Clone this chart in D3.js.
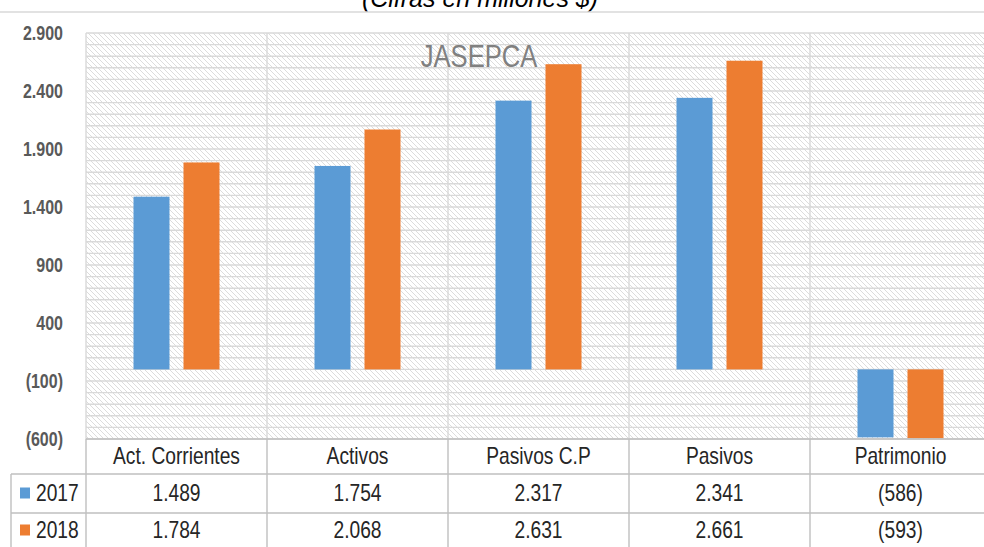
<!DOCTYPE html>
<html>
<head>
<meta charset="utf-8">
<script src="https://cdnjs.cloudflare.com/ajax/libs/d3/7.8.5/d3.min.js"></script>
<style>
  body { margin: 0; background: #fff; }
  svg { display: block; }
  text { font-family: "Liberation Sans", Arial, sans-serif; }
</style>
</head>
<body>
<svg width="984" height="547"></svg>
<script>
// data
var categories = ["Act. Corrientes", "Activos", "Pasivos C.P", "Pasivos", "Patrimonio"];
var years = ["2017", "2018"];
var values2017 = [1489, 1754, 2317, 2341, -586];
var values2018 = [1784, 2068, 2631, 2661, -593];
var tableLabels2017 = ["1.489", "1.754", "2.317", "2.341", "(586)"];
var tableLabels2018 = ["1.784", "2.068", "2.631", "2.661", "(593)"];
var yTicks = [-600, -100, 400, 900, 1400, 1900, 2400, 2900];
var colours = ["#5b9bd5", "#ed7d31"];

var seriesValues = [values2017, values2018];
var tableLabels = [tableLabels2017, tableLabels2018];

var svg = d3.select("svg");
var margin = {top: 33, left: 86, bottom: 439};
var plotRight = 991;
var squeeze = 0.8; // no narrow font installed, so squeeze horizontally

var x = d3.scaleBand().domain(categories).range([margin.left, plotRight]);
var xi = d3.scaleBand().domain(years).range([0, x.bandwidth()])
  .paddingInner(0.28).paddingOuter(0.95);
var y = d3.scaleLinear().domain([-600, 2900]).range([margin.bottom, margin.top]);

// narrow text helper
function narrowText(parent, px, py, txt, size, anchor, fill) {
  var g = parent.append("g")
    .attr("transform", "translate(" + px + "," + py + ") scale(" + squeeze + ",1)");
  return g.append("text")
    .attr("text-anchor", anchor)
    .attr("dy", "0.35em")
    .style("font-size", size + "px")
    .attr("fill", fill)
    .text(txt);
}

// hatch pattern
var defs = svg.append("defs");
var pat = defs.append("pattern").attr("id", "hatch")
  .attr("patternUnits", "userSpaceOnUse").attr("width", 5).attr("height", 5);
pat.append("rect").attr("width", 5).attr("height", 5).attr("fill", "#fff");
pat.append("path").attr("d", "M-1,-1L6,6M-1,4L1,6M4,-1L6,1")
  .attr("stroke", "#dcdcdc").attr("stroke-width", 1);

// title (cut at top, as in the original)
svg.append("text")
  .attr("x", 480).attr("y", 7)
  .attr("text-anchor", "middle")
  .style("font-style", "italic")
  .style("font-size", "25px")
  .attr("fill", "#000")
  .text("(Cifras en millones $)");

svg.append("line").attr("x1", 0).attr("x2", 984).attr("y1", 12).attr("y2", 12)
  .attr("stroke", "#d9d9d9").attr("stroke-width", 1.5);

// plot background
svg.append("rect")
  .attr("x", margin.left).attr("y", margin.top)
  .attr("width", plotRight - margin.left).attr("height", margin.bottom - margin.top)
  .attr("fill", "url(#hatch)");

// gridlines every 100
var grid = d3.range(-600, 2901, 100);
svg.append("g").selectAll("line").data(grid).enter().append("line")
  .attr("x1", margin.left).attr("x2", plotRight)
  .attr("y1", function(d) { return y(d); }).attr("y2", function(d) { return y(d); })
  .attr("stroke", "#d9d9d9").attr("stroke-width", 1.4);

// vertical category borders in plot
svg.append("g").selectAll("line").data(categories).enter().append("line")
  .attr("x1", function(d) { return x(d); }).attr("x2", function(d) { return x(d); })
  .attr("y1", margin.top).attr("y2", margin.bottom)
  .attr("stroke", "#d9d9d9").attr("stroke-width", 1.4);

// y axis labels
var yAxis = d3.axisLeft(y).tickValues(yTicks).tickSize(0).tickPadding(0)
  .tickFormat(function(d) {
    var s = d3.format(",")(Math.abs(d)).replace(/,/g, ".");
    return d < 0 ? "(" + s + ")" : s;
  });
var ya = svg.append("g").attr("transform", "translate(63,0)").call(yAxis);
ya.select(".domain").remove();
ya.selectAll("text")
  .attr("transform", "scale(" + squeeze + ",1)")
  .style("font-family", "'Liberation Sans', Arial, sans-serif")
  .style("font-size", "20px").style("font-weight", "bold")
  .attr("fill", "#595959");

// watermark
var wm = narrowText(svg, 479, 56, "JASEPCA", 32, "middle", "#808080");

// bars
years.forEach(function(yr, s) {
  svg.append("g").selectAll("rect").data(seriesValues[s]).enter().append("rect")
    .attr("x", function(d, i) { return x(categories[i]) + xi(yr); })
    .attr("width", xi.bandwidth())
    .attr("y", function(d) { return y(Math.max(0, d)); })
    .attr("height", function(d) { return Math.abs(y(d) - y(0)); })
    .attr("fill", colours[s]);
});

// data table
var rowMid = [456, 493, 530];
var tableStroke = "#bfbfbf";
var tg = svg.append("g");

// horizontal lines
tg.selectAll(".hl").data([474, 513]).enter().append("line")
  .attr("x1", 11).attr("x2", 984)
  .attr("y1", function(d) { return d; }).attr("y2", function(d) { return d; })
  .attr("stroke", tableStroke).attr("stroke-width", 1.4);

// vertical lines
tg.selectAll(".vl").data(categories).enter().append("line")
  .attr("x1", function(d) { return x(d); }).attr("x2", function(d) { return x(d); })
  .attr("y1", margin.bottom).attr("y2", 547)
  .attr("stroke", tableStroke).attr("stroke-width", 1.4);
tg.append("line").attr("x1", 11).attr("x2", 11).attr("y1", 474).attr("y2", 547)
  .attr("stroke", tableStroke).attr("stroke-width", 1.4);

// plot bottom border
svg.append("line").attr("x1", margin.left).attr("x2", plotRight)
  .attr("y1", margin.bottom).attr("y2", margin.bottom)
  .attr("stroke", "#bfbfbf").attr("stroke-width", 1.6);

// header row
categories.forEach(function(c) {
  narrowText(tg, x(c) + x.bandwidth() / 2, rowMid[0], c, 24, "middle", "#262626");
});

years.forEach(function(yr, s) {
  var cy = rowMid[s + 1];
  tg.append("rect").attr("x", 20).attr("y", cy - 5.5).attr("width", 10).attr("height", 11)
    .attr("fill", colours[s]);
  narrowText(tg, 36, cy, yr, 24, "start", "#262626");
  tableLabels[s].forEach(function(v, i) {
    narrowText(tg, x(categories[i]) + x.bandwidth() / 2, cy, v, 24, "middle", "#262626");
  });
});
</script>
</body>
</html>
